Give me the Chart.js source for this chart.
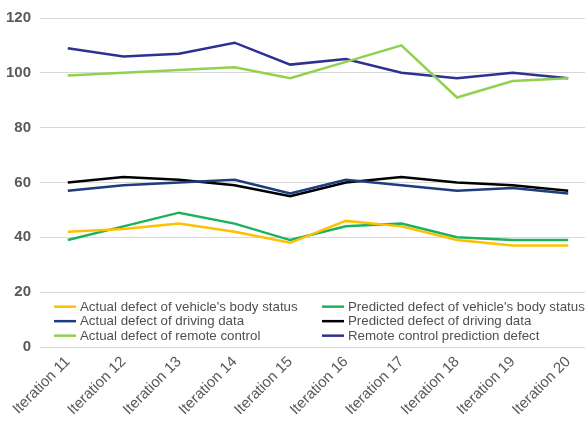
<!DOCTYPE html>
<html>
<head>
<meta charset="utf-8">
<script src="https://cdn.jsdelivr.net/npm/chart.js@4.4.1/dist/chart.umd.min.js"></script>
<style>
  html, body { margin: 0; padding: 0; background: #fff; overflow: hidden; }
  #wrap { width: 585px; height: 430px; overflow: hidden; position: relative; }
  #box { width: 596px; height: 430px; position: absolute; left: 0; top: 0; }
</style>
</head>
<body>
<div id="wrap"><div id="box"><canvas id="c"></canvas></div></div>
<script>
const categories = ['Iteration 11', 'Iteration 12', 'Iteration 13', 'Iteration 14', 'Iteration 15',
                    'Iteration 16', 'Iteration 17', 'Iteration 18', 'Iteration 19', 'Iteration 20'];
const yTicks = [0, 20, 40, 60, 80, 100, 120];

const actualBody      = [42, 43, 45, 42, 38, 46, 44, 39, 37, 37];
const predictedBody   = [39, 44, 49, 45, 39, 44, 45, 40, 39, 39];
const actualDriving   = [57, 59, 60, 61, 56, 61, 59, 57, 58, 56];
const predictedDriving= [60, 62, 61, 59, 55, 60, 62, 60, 59, 57];
const actualRemote    = [99, 100, 101, 102, 98, 104, 110, 91, 97, 98];
const predictedRemote = [109, 106, 107, 111, 103, 105, 100, 98, 100, 98];

const seriesNames = [
  "Actual defect of vehicle's body status",
  "Predicted defect of vehicle's body status",
  "Actual defect of driving data",
  "Predicted defect of driving data",
  "Actual defect of remote control",
  "Remote control prediction defect"
];
const seriesColors = ['#FFC000', '#1DB25A', '#1F3C7E', '#000000', '#92D050', '#2E3192'];
const seriesValues = [actualBody, predictedBody, actualDriving, predictedDriving, actualRemote, predictedRemote];

// Two-column legend drawn inside the plot, between the 0 and 20 gridlines
const insideLegend = {
  id: 'insideLegend',
  afterDatasetsDraw(chart) {
    const ctx = chart.ctx;
    const y20 = chart.scales.y.getPixelForValue(20);
    const colX = [54, 322];
    const rowY = [y20 + 14.5, y20 + 29, y20 + 43.5];
    ctx.save();
    ctx.font = '13.3px "Liberation Sans", Arial, sans-serif';
    ctx.textBaseline = 'middle';
    chart.data.datasets.forEach((ds, i) => {
      const x = colX[i % 2];
      const y = rowY[Math.floor(i / 2)];
      ctx.strokeStyle = ds.borderColor;
      ctx.lineWidth = 2.5;
      ctx.beginPath();
      ctx.moveTo(x, y);
      ctx.lineTo(x + 22, y);
      ctx.stroke();
      ctx.fillStyle = '#505050';
      ctx.fillText(ds.label, x + 26, y + 0.5);
    });
    ctx.restore();
  }
};

new Chart(document.getElementById('c'), {
  type: 'line',
  data: {
    labels: categories,
    datasets: seriesNames.map((name, i) => ({
      label: name,
      data: seriesValues[i],
      borderColor: seriesColors[i],
      backgroundColor: seriesColors[i],
      borderWidth: 2.5,
      pointRadius: 0,
      tension: 0,
      fill: false
    }))
  },
  options: {
    responsive: true,
    maintainAspectRatio: false,
    animation: false,
    layout: { padding: { top: 2, left: 0, right: 0, bottom: 0 } },
    plugins: {
      legend: { display: false },
      tooltip: { enabled: false }
    },
    scales: {
      x: {
        offset: true,
        grid: { display: false, drawTicks: false },
        border: { display: false },
        ticks: {
          color: '#595959',
          font: { family: '"Liberation Sans", Arial, sans-serif', size: 15 },
          maxRotation: 45,
          minRotation: 45,
          autoSkip: false,
          padding: 6
        },
        afterFit(s) { s.height = 83; }
      },
      y: {
        min: 0,
        max: 120,
        afterBuildTicks(s) { s.ticks = yTicks.map(v => ({ value: v })); },
        grid: { color: '#D9D9D9', lineWidth: 1, drawTicks: false },
        border: { display: false },
        ticks: {
          color: '#595959',
          font: { family: '"Liberation Sans", Arial, sans-serif', size: 15, weight: 'bold' },
          padding: 9
        },
        afterFit(s) { s.width = 40; }
      }
    }
  },
  plugins: [insideLegend]
});
</script>
</body>
</html>
